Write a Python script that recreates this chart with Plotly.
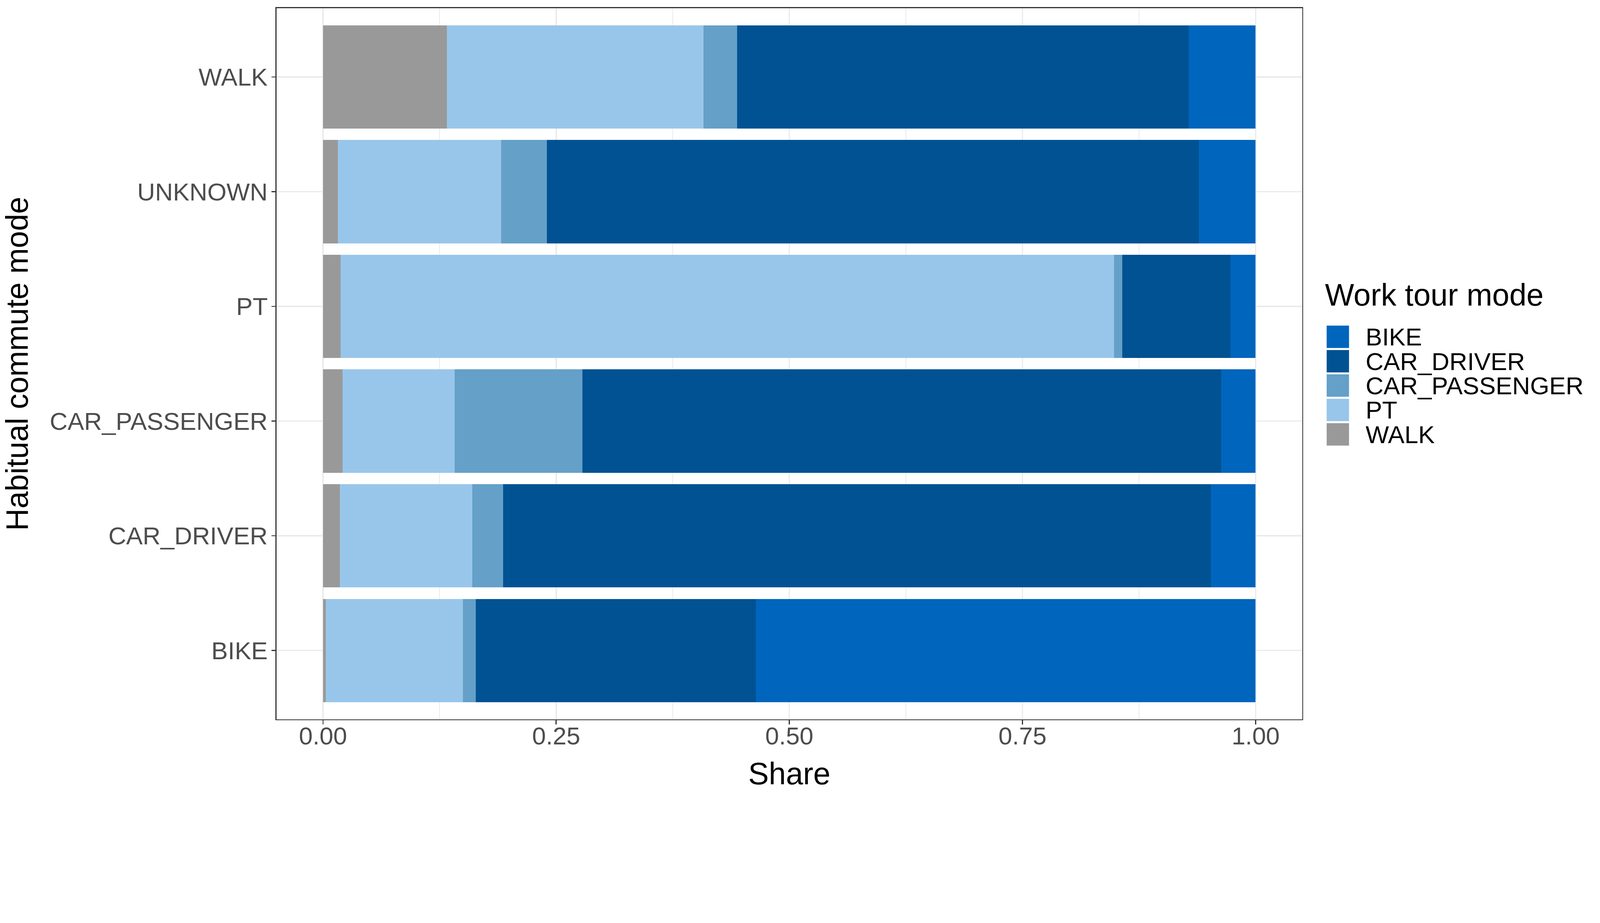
import plotly.graph_objects as go

# habitual commute mode (rows, bottom to top)
habitual = ["BIKE", "CAR_DRIVER", "CAR_PASSENGER", "PT", "UNKNOWN", "WALK"]

# share of each work tour mode per habitual commute mode
walk = [0.003, 0.018, 0.021, 0.019, 0.016, 0.133]
pt = [0.147, 0.142, 0.120, 0.829, 0.175, 0.275]
car_passenger = [0.014, 0.033, 0.137, 0.009, 0.049, 0.036]
car_driver = [0.300, 0.759, 0.685, 0.116, 0.699, 0.484]
bike = [0.536, 0.048, 0.037, 0.027, 0.061, 0.072]

x_ticks = [0.0, 0.25, 0.5, 0.75, 1.0]

# stacking order left -> right, and legend order top -> bottom
stack_modes = ["WALK", "PT", "CAR_PASSENGER", "CAR_DRIVER", "BIKE"]
legend_modes = ["BIKE", "CAR_DRIVER", "CAR_PASSENGER", "PT", "WALK"]
colors = {
    "BIKE": "#0065BD",
    "CAR_DRIVER": "#005293",
    "CAR_PASSENGER": "#64A0C8",
    "PT": "#98C6EA",
    "WALK": "#999999",
}
values = {
    "WALK": walk,
    "PT": pt,
    "CAR_PASSENGER": car_passenger,
    "CAR_DRIVER": car_driver,
    "BIKE": bike,
}

W, H = 4724, 2362
ML, MR, MT, MB = 816, 879, 24, 239
FONT = "Liberation Sans, Arial, sans-serif"

fig = go.Figure()
for mode in stack_modes:
    fig.add_trace(go.Bar(
        y=habitual,
        x=values[mode],
        name=mode,
        orientation="h",
        width=0.9,
        marker=dict(color=colors[mode], line=dict(width=0)),
        showlegend=False,
    ))

# panel size in pixels, used to place the hand-built legend
pw = W - ML - MR
ph = H - MT - MB


def px_x(px):
    return (px - ML) / pw


def px_y(py):
    return (H - MB - py) / ph


shapes = []
annotations = []
annotations.append(dict(
    text="Work tour mode", xref="paper", yref="paper",
    x=px_x(3910), y=px_y(870), xanchor="left", yanchor="middle",
    showarrow=False, font=dict(family=FONT, size=91, color="black"),
))
key_top = 961
for i, mode in enumerate(legend_modes):
    top = key_top + i * 72
    shapes.append(dict(
        type="rect", xref="paper", yref="paper",
        x0=px_x(3917), x1=px_x(3983), y0=px_y(top + 66), y1=px_y(top),
        fillcolor=colors[mode], line=dict(width=0),
    ))
    annotations.append(dict(
        text=mode, xref="paper", yref="paper",
        x=px_x(4030), y=px_y(top + 33), xanchor="left", yanchor="middle",
        showarrow=False, font=dict(family=FONT, size=73, color="black"),
    ))

fig.update_layout(
    width=W, height=H,
    margin=dict(l=ML, r=MR, t=MT, b=MB),
    barmode="stack",
    plot_bgcolor="white",
    paper_bgcolor="white",
    font=dict(family=FONT, size=73, color="#4D4D4D"),
    showlegend=False,
    shapes=shapes,
    annotations=annotations,
)
fig.update_xaxes(
    range=[-0.05, 1.05],
    tickvals=x_ticks,
    tickformat=".2f",
    ticks="outside", ticklen=12, tickwidth=3, tickcolor="#333333",
    ticklabelstandoff=-28,
    showline=True, linecolor="#333333", linewidth=3, mirror=True,
    showgrid=True, gridcolor="#EBEBEB", gridwidth=4,
    minor=dict(dtick=0.125, tick0=0.125, showgrid=True, gridcolor="#EBEBEB", gridwidth=2),
    zeroline=False,
    tickfont=dict(family=FONT, size=73, color="#4D4D4D"),
    title=dict(text="Share", font=dict(family=FONT, size=91, color="black"), standoff=40),
)
fig.update_yaxes(
    categoryorder="array",
    categoryarray=habitual,
    range=[-0.6, len(habitual) - 0.4],
    ticks="outside", ticklen=12, tickwidth=3, tickcolor="#333333",
    ticklabelstandoff=-4,
    showline=True, linecolor="#333333", linewidth=3, mirror=True,
    showgrid=True, gridcolor="#EBEBEB", gridwidth=4,
    zeroline=False,
    tickfont=dict(family=FONT, size=73, color="#4D4D4D"),
    title=dict(text="Habitual commute mode", font=dict(family=FONT, size=91, color="black"), standoff=44),
)

# the page is shown in a window whose css width may be smaller than W,
# so scale the whole figure down to fit the window width
fit_js = """
var gd = document.getElementById('{plot_id}');
var s = Math.min(1, window.innerWidth / %d);
document.documentElement.style.overflow = 'hidden';
document.body.style.margin = '0';
document.body.style.overflow = 'hidden';
gd.style.transformOrigin = '0 0';
gd.style.transform = 'scale(' + s + ')';
gd.parentElement.style.width = (%d * s) + 'px';
gd.parentElement.style.height = (%d * s) + 'px';
gd.parentElement.style.overflow = 'hidden';
""" % (W, W, H)

fig.write_html("out.html", post_script=fit_js, config={"displayModeBar": False})
